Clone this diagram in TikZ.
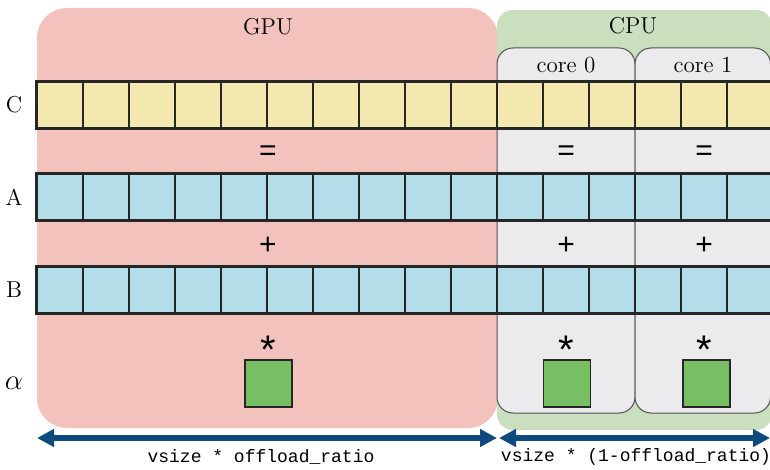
\documentclass[tikz,border=0pt]{standalone}
\usepackage{fontspec}
\usepackage{tikz}
\usetikzlibrary{arrows.meta, positioning}
\newfontfamily\opfont{Liberation Sans}
\newfontfamily\codefont{Liberation Mono}
\definecolor{gpupink}{HTML}{F4C2BC}
\definecolor{cpugreen}{HTML}{CADFBE}
\definecolor{coregray}{HTML}{EBEBEE}
\definecolor{vecyellow}{HTML}{F3E8AE}
\definecolor{vecblue}{HTML}{B3DDE9}
\definecolor{scalgreen}{HTML}{78BE63}
\definecolor{spanblue}{HTML}{0D4A7E}
\definecolor{edge}{HTML}{262626}
\tikzset{
  gpubox/.style={fill=gpupink, draw=none, rounded corners=15pt},
  cpubox/.style={fill=cpugreen, draw=none, rounded corners=8pt},
  corebox/.style={fill=coregray, draw=edge!80, line width=0.5pt, rounded corners=8pt},
  cell/.style={rectangle, draw=edge, line width=0.55pt, minimum size=23pt, inner sep=0pt},
  rowframe/.style={draw=edge, line width=1pt},
  scalar/.style={rectangle, draw=edge, line width=0.6pt, fill=scalgreen, minimum size=23.5pt, inner sep=0pt},
  lbl/.style={font=\fontsize{11.5}{13}\selectfont, inner sep=0pt},
  op/.style={font=\opfont\fontsize{15}{17}\selectfont, inner sep=0pt},
  span/.style={{Triangle[length=8.5pt, width=8.5pt]}-{Triangle[length=8.5pt, width=8.5pt]}, line width=3pt, spanblue},
  code/.style={font=\codefont\fontsize{9}{10}\selectfont, inner sep=0pt},
}
\begin{document}
\begin{tikzpicture}[x=0.5pt, y=-0.5pt]
\useasboundingbox (0,0) rectangle (770,470);
% regions
\fill[gpubox] (37,8) rectangle (498,428);
\fill[cpubox] (497,10) rectangle (772,430);
\draw[corebox] (497,48) rectangle (635,413);
\draw[corebox] (635,48) rectangle (770.5,413);
\node[lbl] (gpu) at (268,27) {GPU};
\node[lbl] (cpu) at (633,26) {CPU};
\node[lbl] (core0) at (566,65) {core 0};
\node[lbl] (core1) at (703,65) {core 1};
% vectors
\foreach \i in {0,...,15} {
  \node[cell, fill=vecyellow] (C\i) at ({60+46*\i},105) {};
  \node[cell, fill=vecblue] (A\i) at ({60+46*\i},197) {};
  \node[cell, fill=vecblue] (B\i) at ({60+46*\i},290) {};
}
\draw[rowframe] (C0.north west) rectangle (C15.south east);
\draw[rowframe] (A0.north west) rectangle (A15.south east);
\draw[rowframe] (B0.north west) rectangle (B15.south east);
\node[lbl] (labC) at (14,105) {C};
\node[lbl] (labA) at (14,197) {A};
\node[lbl] (labB) at (14,290) {B};
\node[lbl, font=\fontsize{13.5}{15}\selectfont] (labalpha) at (14,383) {$\alpha$};
% operators and scalars
\foreach \x/\n in {268/g, 566/c, 704/d} {
  \node[op] (eq\n) at (\x,153) {=};
  \node[op] (plus\n) at (\x,246) {+};
  \node[op, font=\opfont\fontsize{20}{22}\selectfont] (star\n) at (\x,350) {*};
}
\node[scalar] (sg) at (268.5,383.5) {};
\node[scalar] (s0) at (567,383.5) {};
\node[scalar] (s1) at (706.5,383.5) {};
% split
\coordinate (gpuL) at (37,438);
\coordinate (gpuR) at (497,438);
\coordinate (cpuL) at (499,438);
\coordinate (cpuR) at (770,438);
\draw[span] (gpuL) -- (gpuR);
\draw[span] (cpuL) -- (cpuR);
\node[code] (gpushare) at (261,457) {vsize * offload\_ratio};
\node[code] (cpushare) at (636,457) {vsize * (1-offload\_ratio)};
\end{tikzpicture}
\end{document}
